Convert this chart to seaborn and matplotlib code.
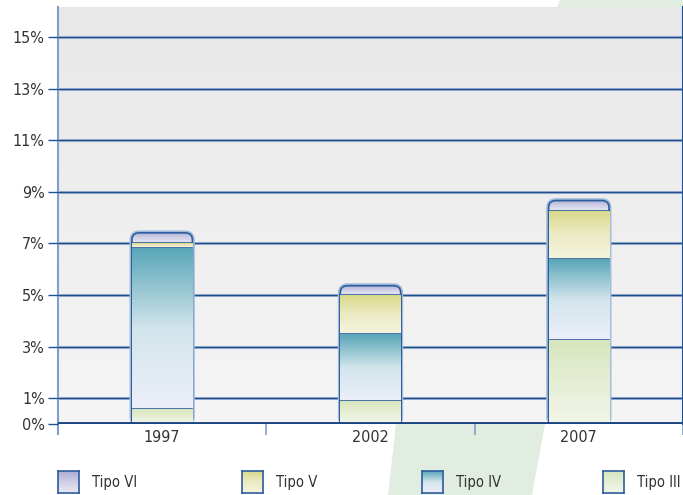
import numpy as np
import matplotlib
matplotlib.use("Agg")
import matplotlib.pyplot as plt
import seaborn as sns
from matplotlib.colors import LinearSegmentedColormap
from matplotlib.patches import FancyBboxPatch, Polygon

# valores (% por tipo, apilados)
years = ["1997", "2002", "2007"]
tipo_iii = [0.58, 0.90, 3.27]
tipo_iv = [6.23, 2.59, 3.11]
tipo_v = [0.19, 1.51, 1.88]
tipo_vi = [0.41, 0.36, 0.40]
yticks = [0, 1, 3, 5, 7, 9, 11, 13, 15]
ytick_labels = [f"{t}%" for t in yticks]
legend_labels = ["Tipo VI", "Tipo V", "Tipo IV", "Tipo III"]

# gradientes (abajo -> arriba)
grad = {
    "Tipo III": ["#f2f6e8", "#e6eed5", "#d6e6bd"],
    "Tipo IV": ["#eceff9", "#d3e5ec", "#5aa7b9"],
    "Tipo V": ["#f4f4dd", "#ecebc4", "#d9d98a"],
    "Tipo VI": ["#e8e8f3", "#d0d0e6", "#acacd4"],
}
edge = "#2d5d9c"
halo = "#a3bcdb"

sns.set_theme(style="white")
plt.rcParams["font.family"] = ["Liberation Sans Narrow", "DejaVu Sans"]
plt.rcParams["font.stretch"] = "condensed"
plt.rcParams["text.color"] = "#333333"

fig = plt.figure(figsize=(6.83, 4.95), dpi=100)
fig.patch.set_facecolor("white")

# franja verde de fondo
pts = [(388, 495), (532, 495), (545, 424), (720, 0), (560, 0), (396, 424)]
fig.patches.append(Polygon([(x / 683, 1 - y / 495) for x, y in pts],
                           closed=True, transform=fig.transFigure, facecolor="#e0ede0",
                           edgecolor="none", zorder=-5))

ax = fig.add_axes([58/683, 71/495, 625/683, 417/495])
ax.set_facecolor("none")
ymax = (424 - 7) / 25.8

# fondo gris degradado
bg = np.linspace(0, 1, 100).reshape(-1, 1)
bg_cmap = LinearSegmentedColormap.from_list("bg", ["#f5f5f5", "#e8e8e9"])
ax.imshow(bg, cmap=bg_cmap, extent=[0, 1, 0, 1], origin="lower", aspect="auto",
          transform=ax.transAxes, zorder=-3)

layers = [("Tipo III", tipo_iii), ("Tipo IV", tipo_iv), ("Tipo V", tipo_v), ("Tipo VI", tipo_vi)]
cum = np.cumsum([v for _, v in layers], axis=0)

# barras acumuladas, de arriba hacia abajo (cada una tapa a la anterior)
width = 0.29
rx = 0.035
ry = 7 / 25.8
for i in range(3, -1, -1):
    n0 = len(ax.patches)
    name = layers[i][0]
    sns.barplot(x=years, y=cum[i], color=grad[name][1], width=width,
                edgecolor=edge, linewidth=1.2, ax=ax, zorder=2 + (3 - i) * 0.1)
    cmap = LinearSegmentedColormap.from_list(name, grad[name])
    for j, p in enumerate(ax.patches[n0:n0 + 3]):
        x0, w = p.get_x(), p.get_width()
        bot = cum[i - 1][j] if i > 0 else 0
        top = cum[i][j]
        z = p.get_zorder()
        if name == "Tipo VI":
            p.set_visible(False)
            shape = FancyBboxPatch((x0, 0), w, top,
                                   boxstyle=f"round,pad=0,rounding_size={rx}",
                                   mutation_aspect=ry / rx, facecolor="none",
                                   edgecolor=edge, linewidth=1.2, zorder=z + 0.02)
            ax.add_patch(shape)
            clip = shape
            hal = FancyBboxPatch((x0, 0), w, top,
                                 boxstyle=f"round,pad=0,rounding_size={rx}",
                                 mutation_aspect=ry / rx, facecolor="none",
                                 edgecolor=halo, linewidth=3.5, zorder=1.5)
            ax.add_patch(hal)
        else:
            clip = p
            p.set_facecolor("white")
        g = np.linspace(0, 1, 100).reshape(-1, 1)
        im = ax.imshow(g, cmap=cmap, extent=[x0, x0 + w, bot, top], origin="lower",
                       aspect="auto", zorder=z + 0.01)
        im.set_clip_path(clip)

ax.set_xlim(-0.5, 2.5)
ax.set_ylim(0, ymax)

# rejilla horizontal
for t in yticks[1:]:
    ax.axhline(t, color="#a9bcd6", linewidth=2.2, zorder=0.9)
    ax.axhline(t, color="#1f4f8f", linewidth=1.0, zorder=1)
ax.axhline(0, color="#1b4682", linewidth=2.8, zorder=5)

ax.set_yticks(yticks)
ax.set_yticklabels(ytick_labels)
ax.tick_params(axis="y", left=True, length=7.5, width=1.0, color="#1f4f8f",
               labelsize=11.5, labelcolor="#333333", pad=2)
ax.set_xticks([0, 1, 2])
ax.set_xticklabels(years)
ax.set_xticks([-0.5, 0.5, 1.5, 2.5], minor=True)
ax.tick_params(axis="x", which="major", length=0, labelsize=11.5, labelcolor="#333333", pad=4)
ax.tick_params(axis="x", which="minor", bottom=True, length=8, width=1.2, color="#7f9fc8")
ax.set_xlabel("")
ax.set_ylabel("")

for s in ["top", "bottom"]:
    ax.spines[s].set_visible(False)
ax.spines["left"].set_color("#7f9fc8")
ax.spines["left"].set_linewidth(1.5)
ax.spines["left"].set_bounds(-0.4, ymax)
ax.spines["left"].set_zorder(0.5)
ax.spines["right"].set_color("#1f4f8f")
ax.spines["right"].set_linewidth(1.5)

# leyenda manual: cuadros con degradado + texto
legend_x = [58, 242, 422, 603]
for lab, lx in zip(legend_labels, legend_x):
    lax = fig.add_axes([lx / 683, 2 / 495, 21 / 683, 22 / 495])
    lcmap = LinearSegmentedColormap.from_list(lab + "_l", grad[lab])
    lax.imshow(np.linspace(0, 1, 50).reshape(-1, 1), cmap=lcmap, origin="lower",
               aspect="auto", extent=[0, 1, 0, 1])
    lax.set_xticks([])
    lax.set_yticks([])
    for sp in lax.spines.values():
        sp.set_visible(True)
        sp.set_color(edge)
        sp.set_linewidth(1.2)
    fig.text((lx + 34) / 683, 13 / 495, lab, fontsize=10.6, color="#333333",
             ha="left", va="center")

fig.savefig("out.png", dpi=100)
